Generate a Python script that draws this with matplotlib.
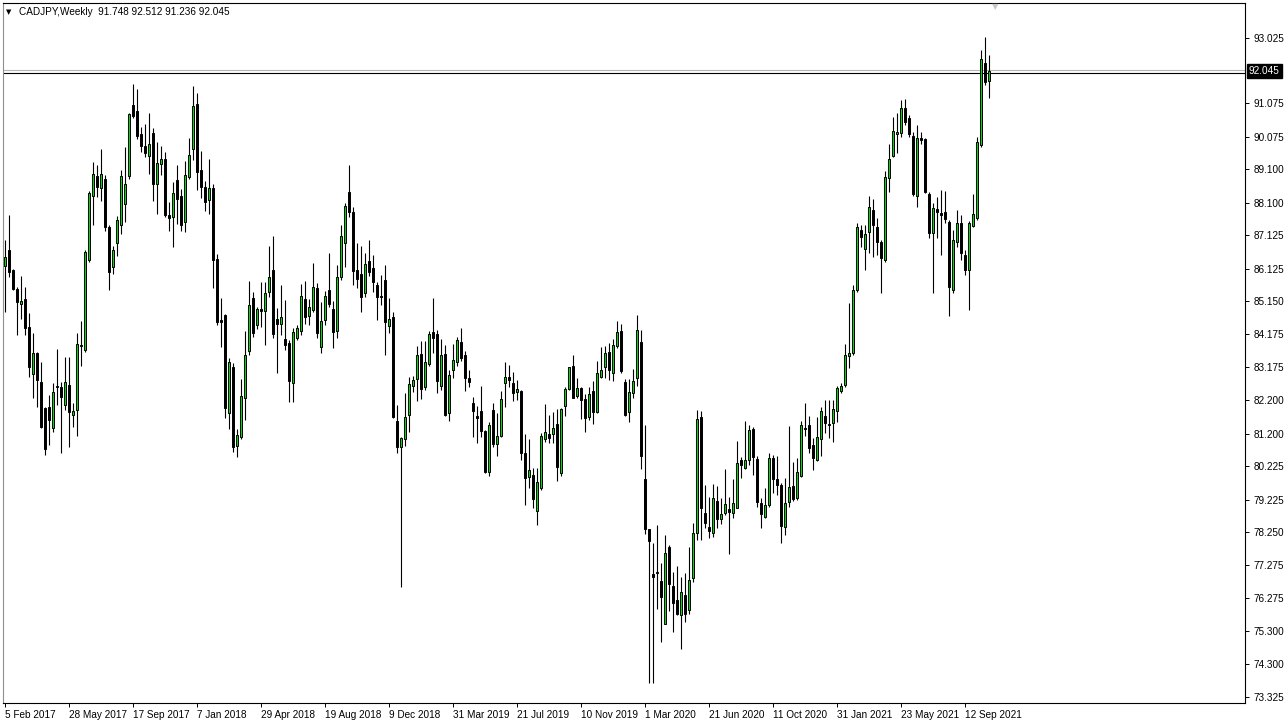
import numpy as np
import pandas as pd
import matplotlib
matplotlib.use("Agg")
import matplotlib.pyplot as plt
import matplotlib.transforms as mtransforms

symbol = "CADJPY,Weekly"

# weekly OHLC, first bar is the week of 5 Feb 2017
opens = [86.20, 86.68, 86.08, 85.53, 85.08, 85.21, 84.40, 82.97, 83.60, 82.75,
	81.95, 82.00, 81.36, 82.63, 82.58, 82.05, 82.65, 81.74, 81.90, 83.85,
	83.70, 86.39, 88.30, 88.89, 88.54, 88.82, 87.37, 86.18, 86.89, 87.44,
	88.07, 88.90, 91.02, 90.84, 90.14, 89.79, 89.49, 90.17, 88.67, 89.27,
	89.40, 87.72, 87.67, 88.77, 88.29, 87.52, 88.87, 89.70, 91.04, 89.07,
	88.57, 88.19, 88.55, 86.43, 84.59, 84.74, 81.80, 83.18, 80.83, 81.10,
	82.27, 83.67, 85.24, 84.44, 84.92, 84.87, 85.44, 86.09, 84.62, 84.48,
	84.02, 83.90, 82.70, 84.05, 84.28, 85.22, 84.72, 84.89, 85.56, 83.80,
	84.60, 85.49, 84.92, 84.28, 85.87, 86.89, 88.41, 87.81, 86.09, 85.96,
	85.39, 86.36, 86.16, 85.64, 85.31, 85.79, 84.43, 84.69, 81.58, 80.81,
	81.03, 81.75, 82.63, 82.82, 83.58, 82.60, 83.28, 84.23, 84.18, 82.63,
	83.58, 81.82, 83.10, 83.35, 83.95, 83.55, 82.87, 82.12, 81.73, 81.87,
	81.28, 80.06, 81.90, 80.88, 81.14, 82.70, 82.90, 82.70, 82.45, 82.47,
	80.63, 79.91, 79.96, 78.89, 79.56, 81.03, 81.19, 81.19, 81.49, 80.01,
	82.03, 82.52, 83.22, 82.33, 82.57, 82.23, 81.69, 82.47, 81.85, 82.90,
	83.18, 83.63, 83.00, 83.82, 84.27, 82.75, 81.83, 82.42, 82.85, 83.93,
	79.83, 78.36, 76.99, 77.05, 76.79, 75.52, 77.82, 76.64, 76.22, 75.77,
	76.37, 75.94, 76.87, 78.22, 81.70, 78.81, 78.40, 78.22, 79.18, 78.64,
	78.81, 78.94, 78.81, 78.96, 80.41, 80.18, 80.41, 81.34, 80.44, 79.11,
	78.70, 79.06, 80.48, 79.83, 79.66, 78.42, 79.16, 79.63, 79.26, 79.94,
	81.38, 81.45, 80.86, 80.41, 81.03, 81.72, 81.49, 81.53, 81.88, 82.48,
	82.65, 83.52, 83.60, 85.49, 87.28, 86.71, 87.22, 87.88, 87.36, 86.94,
	86.39, 88.83, 89.51, 90.15, 90.17, 90.92, 90.62, 90.10, 88.31, 90.03,
	90.00, 88.36, 87.19, 87.91, 87.80, 87.82, 87.53, 85.49, 86.92, 87.48,
	86.54, 86.09, 87.40, 87.63, 89.83, 92.27, 91.748]

highs = [86.98, 87.73, 86.13, 85.58, 85.90, 85.59, 84.79, 84.20, 83.65, 83.35,
	82.00, 82.35, 82.70, 83.72, 82.75, 83.50, 83.50, 82.10, 84.22, 84.56,
	86.69, 88.45, 89.32, 89.24, 89.72, 88.94, 87.42, 86.80, 87.70, 89.07,
	89.77, 90.77, 91.65, 91.50, 90.37, 90.44, 90.77, 90.32, 89.92, 89.79,
	89.62, 88.12, 88.72, 89.24, 88.52, 89.34, 90.04, 91.59, 91.37, 89.64,
	88.74, 89.42, 88.67, 86.56, 85.24, 84.76, 83.45, 83.30, 81.35, 82.83,
	84.26, 85.76, 85.44, 84.99, 85.74, 85.74, 86.81, 87.11, 84.94, 85.64,
	85.19, 84.00, 84.35, 84.45, 85.66, 85.76, 85.22, 86.31, 85.69, 85.14,
	85.46, 86.60, 85.16, 86.24, 87.44, 88.08, 89.23, 87.98, 86.89, 86.81,
	86.59, 86.99, 86.54, 85.74, 85.94, 86.24, 85.24, 84.84, 82.05, 81.11,
	82.42, 82.90, 82.92, 83.82, 83.97, 83.97, 84.27, 85.26, 84.30, 84.02,
	83.85, 83.10, 83.87, 84.10, 84.35, 83.67, 83.10, 82.30, 82.02, 82.62,
	81.30, 81.55, 82.10, 81.80, 82.47, 83.35, 83.25, 83.03, 82.80, 82.50,
	81.19, 81.04, 80.16, 80.16, 81.21, 82.08, 81.75, 81.85, 81.93, 81.95,
	82.60, 83.20, 83.55, 82.85, 82.60, 82.37, 82.60, 82.77, 83.37, 83.80,
	83.82, 83.92, 84.02, 84.56, 84.47, 82.82, 82.82, 83.12, 84.74, 84.30,
	81.45, 78.36, 77.92, 78.46, 77.32, 78.16, 77.87, 77.05, 77.24, 76.92,
	77.02, 77.81, 78.52, 81.90, 81.87, 79.66, 79.31, 79.69, 79.63, 79.26,
	80.14, 79.31, 79.84, 80.98, 80.51, 81.58, 81.46, 81.41, 80.53, 79.28,
	79.58, 80.61, 80.56, 80.53, 79.71, 79.86, 81.43, 80.36, 80.46, 81.57,
	82.10, 81.72, 81.06, 81.70, 81.98, 82.20, 82.20, 82.20, 82.63, 82.70,
	83.87, 85.11, 85.64, 87.48, 87.43, 87.43, 88.30, 88.20, 87.63, 86.99,
	89.05, 89.86, 90.67, 90.77, 91.17, 91.19, 90.72, 90.22, 90.42, 90.20,
	90.03, 88.43, 88.08, 88.28, 88.48, 88.45, 87.58, 87.28, 87.88, 87.73,
	86.69, 87.56, 88.35, 90.06, 92.67, 93.04, 92.512]

lows = [84.83, 85.88, 85.48, 84.14, 84.63, 84.15, 82.90, 82.25, 82.00, 81.36,
	80.56, 80.86, 81.26, 82.05, 80.61, 81.90, 80.81, 81.41, 81.13, 83.22,
	83.65, 86.33, 87.42, 88.27, 88.14, 87.27, 85.50, 85.98, 86.52, 87.17,
	87.52, 88.82, 90.62, 90.02, 89.62, 89.47, 88.97, 88.14, 87.77, 88.92,
	87.67, 87.27, 86.78, 87.47, 87.27, 87.22, 88.82, 89.37, 88.47, 88.24,
	87.84, 87.77, 85.54, 84.44, 83.79, 81.65, 81.33, 80.65, 80.50, 81.05,
	81.60, 83.56, 84.09, 84.32, 84.39, 83.85, 85.29, 84.05, 83.00, 84.15,
	83.70, 82.15, 82.15, 84.00, 84.15, 84.47, 84.45, 84.83, 84.07, 83.62,
	84.45, 84.99, 83.75, 84.07, 85.79, 86.19, 87.66, 85.64, 85.56, 84.84,
	85.27, 85.91, 85.44, 84.59, 85.04, 83.55, 84.20, 81.66, 80.63, 76.62,
	80.83, 81.26, 82.45, 82.18, 82.24, 82.50, 83.23, 83.62, 82.40, 82.50,
	81.72, 81.57, 82.85, 83.22, 83.38, 82.48, 82.60, 81.10, 80.91, 81.10,
	80.03, 79.93, 80.81, 80.54, 81.10, 82.00, 82.60, 82.17, 82.20, 80.41,
	79.06, 79.56, 78.98, 78.47, 79.51, 80.94, 80.91, 80.91, 79.79, 79.94,
	81.73, 82.50, 82.25, 82.27, 81.64, 81.26, 81.60, 81.48, 81.80, 82.87,
	82.87, 82.80, 82.78, 83.75, 83.00, 81.72, 81.55, 82.25, 82.62, 80.13,
	78.21, 73.73, 73.73, 75.97, 74.96, 75.52, 75.90, 75.27, 75.77, 74.77,
	75.57, 75.80, 76.77, 78.02, 78.02, 78.37, 78.07, 78.12, 78.37, 78.50,
	78.78, 77.59, 78.67, 78.96, 79.86, 80.13, 80.26, 79.96, 79.01, 78.37,
	78.67, 79.01, 79.43, 79.36, 77.92, 78.17, 79.01, 79.19, 79.21, 79.89,
	81.13, 80.63, 80.11, 80.39, 80.53, 81.21, 81.06, 80.96, 81.55, 82.42,
	82.60, 83.15, 83.55, 85.44, 86.79, 86.09, 86.61, 86.49, 86.54, 85.41,
	86.34, 88.43, 89.48, 89.58, 90.07, 90.42, 90.07, 88.30, 87.96, 89.85,
	88.38, 87.04, 85.41, 87.04, 86.54, 87.50, 84.70, 85.39, 86.79, 86.39,
	85.94, 84.89, 87.36, 87.58, 89.78, 91.62, 91.236]

closes = [86.48, 86.03, 85.53, 85.13, 85.15, 84.35, 83.20, 83.60, 82.80, 81.41,
	80.73, 81.61, 82.45, 82.60, 82.28, 82.73, 81.83, 81.87, 83.87, 83.81,
	86.64, 88.40, 88.95, 88.57, 88.95, 87.37, 86.03, 86.70, 87.57, 88.89,
	88.65, 90.75, 90.70, 90.10, 89.80, 89.60, 89.85, 88.67, 89.30, 89.42,
	87.72, 87.64, 88.40, 88.22, 87.42, 88.92, 89.52, 90.99, 89.02, 88.57,
	88.12, 88.55, 86.38, 84.54, 84.52, 81.97, 83.33, 80.80, 81.15, 82.32,
	83.56, 85.04, 84.21, 84.91, 84.86, 85.39, 85.87, 84.18, 84.48, 84.68,
	83.85, 82.78, 84.23, 84.35, 85.31, 84.67, 84.99, 85.59, 84.22, 84.57,
	85.32, 85.07, 84.25, 85.87, 87.11, 88.00, 87.81, 86.06, 85.81, 85.29,
	86.26, 86.04, 85.74, 85.29, 85.27, 84.52, 84.62, 81.69, 80.79, 81.06,
	81.69, 82.68, 82.80, 83.55, 82.54, 83.34, 84.18, 84.07, 82.78, 83.55,
	81.75, 82.95, 83.40, 84.00, 83.45, 82.87, 82.75, 81.88, 81.67, 81.28,
	80.06, 81.45, 80.89, 81.13, 82.24, 82.88, 82.80, 82.42, 82.53, 80.63,
	79.88, 80.11, 79.23, 79.76, 81.13, 81.26, 81.08, 81.36, 80.21, 81.93,
	82.52, 83.18, 82.27, 82.57, 82.20, 81.65, 82.37, 81.85, 83.00, 83.10,
	83.60, 83.10, 83.85, 84.25, 83.07, 81.75, 82.43, 82.78, 84.30, 80.54,
	78.36, 77.98, 76.92, 77.03, 76.30, 77.62, 76.69, 76.14, 75.82, 76.47,
	75.82, 76.82, 78.22, 81.64, 78.98, 78.52, 78.29, 79.26, 78.64, 78.79,
	79.08, 78.84, 79.11, 80.33, 80.26, 80.41, 81.31, 80.51, 79.14, 78.79,
	79.06, 80.46, 79.83, 79.66, 78.45, 79.11, 79.59, 79.24, 80.06, 81.47,
	81.33, 80.76, 80.46, 81.09, 81.88, 81.53, 81.45, 81.92, 82.55, 82.62,
	83.55, 83.60, 85.49, 87.36, 87.07, 87.16, 87.96, 87.43, 86.94, 86.44,
	88.86, 89.40, 90.23, 90.21, 90.92, 90.52, 90.14, 88.36, 90.03, 89.99,
	88.43, 87.20, 87.93, 87.83, 87.74, 87.62, 85.57, 86.99, 87.50, 86.59,
	86.09, 87.48, 87.76, 89.92, 92.39, 91.72, 92.045]

price_ticks = [93.025, 91.075, 90.075, 89.100, 88.100, 87.125, 86.125, 85.150,
	84.175, 83.175, 82.200, 81.200, 80.225, 79.225, 78.250, 77.275, 76.275,
	75.300, 74.300, 73.325]
bid = 92.045
level = 91.99

dates = pd.date_range("2017-02-05", periods=len(opens), freq="7D")
tick_step = 16

W, H = 1288, 723
fs = 7.2
plt.rcParams['font.family'] = ['Liberation Sans', 'DejaVu Sans']
fig = plt.figure(figsize=(W/100, H/100), dpi=100)
fig.patch.set_facecolor('white')
ax = fig.add_axes([3/W, 20/H, 1242/W, 700/H])

o = np.array(opens)
h = np.array(highs)
l = np.array(lows)
c = np.array(closes)
x = np.arange(len(o))
up = c >= o

ax.vlines(x, l, h, color='black', lw=0.8, zorder=2)
ax.bar(x, np.abs(c - o), bottom=np.minimum(o, c), width=0.55,
	color=np.where(up, '#00dd00', 'black'), edgecolor='black', lw=0.7, zorder=3)

ax.axhline(bid + 0.02, color='#b4b4b4', lw=0.8, zorder=1)
ax.axhline(level, color='black', lw=0.8, zorder=1)

ax.set_xlim(-0.5, 310)
ax.set_ylim(73.145, 94.071)

for s in ['top', 'bottom', 'right']:
	ax.spines[s].set_color('black')
	ax.spines[s].set_linewidth(0.8)
ax.spines['left'].set_color('#909090')
ax.spines['left'].set_linewidth(0.8)

ax.yaxis.tick_right()
ax.set_yticks(price_ticks)
ax.set_yticklabels(["%.3f" % v for v in price_ticks])
ax.tick_params(axis='y', labelsize=fs, length=3, width=0.7, pad=3)

ticks = x[::tick_step]
ax.set_xticks(ticks)
ax.set_xticklabels(["%d %s" % (d.day, d.strftime("%b %Y")) for d in dates[::tick_step]],
	ha='left')
ax.tick_params(axis='x', labelsize=fs, length=3, width=0.7, pad=2)

# current price box on the price scale
trans = mtransforms.blended_transform_factory(ax.transAxes, ax.transData)
ax.text(1.003, bid, "%.3f" % bid, transform=trans, fontsize=fs, color='white',
	va='center', ha='left',
	bbox=dict(boxstyle='square,pad=0.2', fc='black', ec='black'))

# header
fig.text(6/W, 1 - 12/H, "\u25bc", fontsize=5, va='center', ha='left', family='DejaVu Sans')
fig.text(19/W, 1 - 12/H, "%s  %.3f %.3f %.3f %.3f" % (symbol, opens[-1], highs[-1], lows[-1], closes[-1]),
	fontsize=fs, va='center', ha='left')
fig.text(995/W, 1 - 7/H, "\u25bc", fontsize=6, color='#c8c8c8', va='center', ha='center',
	family='DejaVu Sans')

fig.savefig("out.png", dpi=100)
